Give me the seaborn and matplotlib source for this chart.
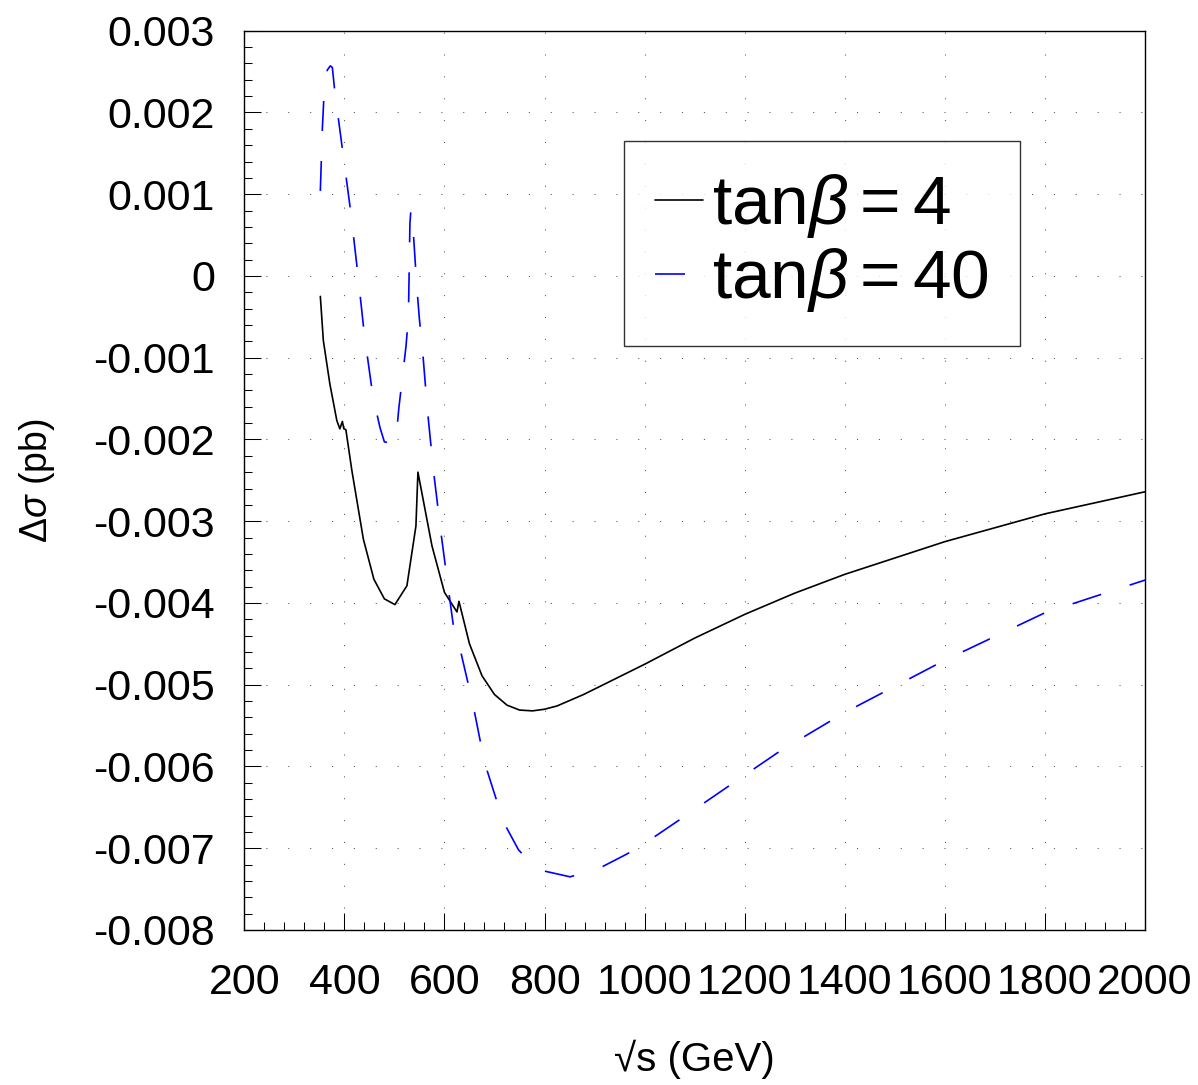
import numpy as np
import pandas as pd
import matplotlib
matplotlib.use("Agg")
import matplotlib.pyplot as plt
import seaborn as sns
from matplotlib.ticker import MultipleLocator, FixedLocator

# ------------------------------------------------------------
# Data (sqrt(s) in GeV, delta sigma in pb)
# ------------------------------------------------------------
sqrt_s_tb4 = [352, 358, 371, 385, 391, 396, 399, 403, 415, 438, 459, 480, 501,
              525, 543, 547, 575, 600, 625, 629, 650, 675, 700, 725, 750, 776,
              800, 825, 878, 1000, 1100, 1200, 1300, 1400, 1600, 1800, 2000]
dsig_tb4 = [-0.25, -0.79, -1.32, -1.77, -1.87, -1.78, -1.87, -1.88, -2.38,
            -3.22, -3.71, -3.95, -4.02, -3.79, -3.06, -2.40, -3.30, -3.87,
            -4.11, -3.98, -4.50, -4.89, -5.12, -5.25, -5.31, -5.32, -5.30,
            -5.26, -5.12, -4.75, -4.43, -4.14, -3.88, -3.65, -3.25, -2.91,
            -2.64]

sqrt_s_tb40 = [352, 356, 360, 366, 372, 376, 381, 397, 413, 427, 440, 457, 471,
               480, 501, 503, 509, 516, 523, 528, 529, 531, 533, 537, 545, 550,
               556, 566, 578, 593, 609, 621, 633, 657, 680, 718, 748, 777, 800,
               851, 908, 965, 1015, 1068, 1168, 1271, 1400, 1600, 1800, 2000]
dsig_tb40 = [1.04, 1.80, 2.30, 2.52, 2.57, 2.55, 2.25, 1.51, 0.77, 0.02, -0.72,
             -1.47, -1.85, -2.03, -2.05, -2.00, -1.61, -1.24, -0.87, -0.51,
             -0.12, 0.64, 0.81, 0.61, -0.15, -0.53, -0.89, -1.64, -2.38, -3.14,
             -3.88, -4.42, -4.61, -5.24, -5.95, -6.68, -7.02, -7.21, -7.28,
             -7.35, -7.25, -7.07, -6.88, -6.66, -6.24, -5.81, -5.34, -4.70,
             -4.12, -3.72]

labels = [r"$\mathrm{tan}\beta = 4$", r"$\mathrm{tan}\beta = 40$"]
y_ticks = [0.003, 0.002, 0.001, 0, -0.001, -0.002, -0.003, -0.004, -0.005,
           -0.006, -0.007, -0.008]
y_tick_labels = ["0.003", "0.002", "0.001", "0", "-0.001", "-0.002", "-0.003",
                 "-0.004", "-0.005", "-0.006", "-0.007", "-0.008"]

df4 = pd.DataFrame({"x": sqrt_s_tb4, "y": np.array(dsig_tb4) * 1e-3})
df40 = pd.DataFrame({"x": sqrt_s_tb40, "y": np.array(dsig_tb40) * 1e-3})

# ------------------------------------------------------------
# Style
# ------------------------------------------------------------
sns.set_style("ticks")
plt.rcParams["font.family"] = ["Liberation Sans", "DejaVu Sans"]
plt.rcParams["mathtext.fontset"] = "custom"
plt.rcParams["mathtext.rm"] = "Liberation Sans"
plt.rcParams["mathtext.it"] = "Liberation Sans:italic"
plt.rcParams["mathtext.bf"] = "Liberation Sans:bold"
plt.rcParams["text.color"] = "black"
plt.rcParams["axes.labelcolor"] = "black"
plt.rcParams["xtick.color"] = "black"
plt.rcParams["ytick.color"] = "black"

fig = plt.figure(figsize=(11.98, 10.85), dpi=100)
ax = fig.add_axes([0.2039, 0.1429, 0.7519, 0.8288])

sns.lineplot(data=df4, x="x", y="y", ax=ax, color="black", lw=1.2,
             label=labels[0])
sns.lineplot(data=df40, x="x", y="y", ax=ax, color="blue", lw=1.2,
             label=labels[1])
ax.lines[1].set_dashes((18, 18))

ax.set_xlim(200, 2000)
ax.set_ylim(-0.008, 0.003)

ax.xaxis.set_major_locator(MultipleLocator(200))
ax.xaxis.set_minor_locator(MultipleLocator(40))
ax.yaxis.set_major_locator(FixedLocator(y_ticks))
ax.set_yticklabels(y_tick_labels)
ax.yaxis.set_minor_locator(MultipleLocator(0.0002))

ax.tick_params(which="both", direction="in", top=False, right=False,
               width=0.75, color="black")
ax.tick_params(which="major", length=12)
ax.tick_params(which="minor", length=6)
ax.tick_params(axis="x", labelsize=31, pad=24)
ax.tick_params(axis="y", labelsize=31, pad=21)

for sp in ax.spines.values():
    sp.set_visible(True)
    sp.set_linewidth(1.0)
    sp.set_color("black")

ax.grid(True, which="major", color="#555555", linewidth=0.75,
        linestyle=(0, (1, 20)))

ax.set_xlabel("\u221as (GeV)", fontsize=29, labelpad=26)
ax.set_ylabel(r"$\Delta\sigma$ (pb)", fontsize=27, labelpad=26)

leg = ax.legend(loc="upper left", bbox_to_anchor=(0.4216, 0.8774),
                fontsize=50, frameon=True, fancybox=False, shadow=False,
                handlelength=0.68, handletextpad=0.13,
                borderpad=0.45, labelspacing=0.09, borderaxespad=0)
leg.get_frame().set_edgecolor("black")
leg.get_frame().set_linewidth(1.0)

fig.savefig("out.png", dpi=100)
